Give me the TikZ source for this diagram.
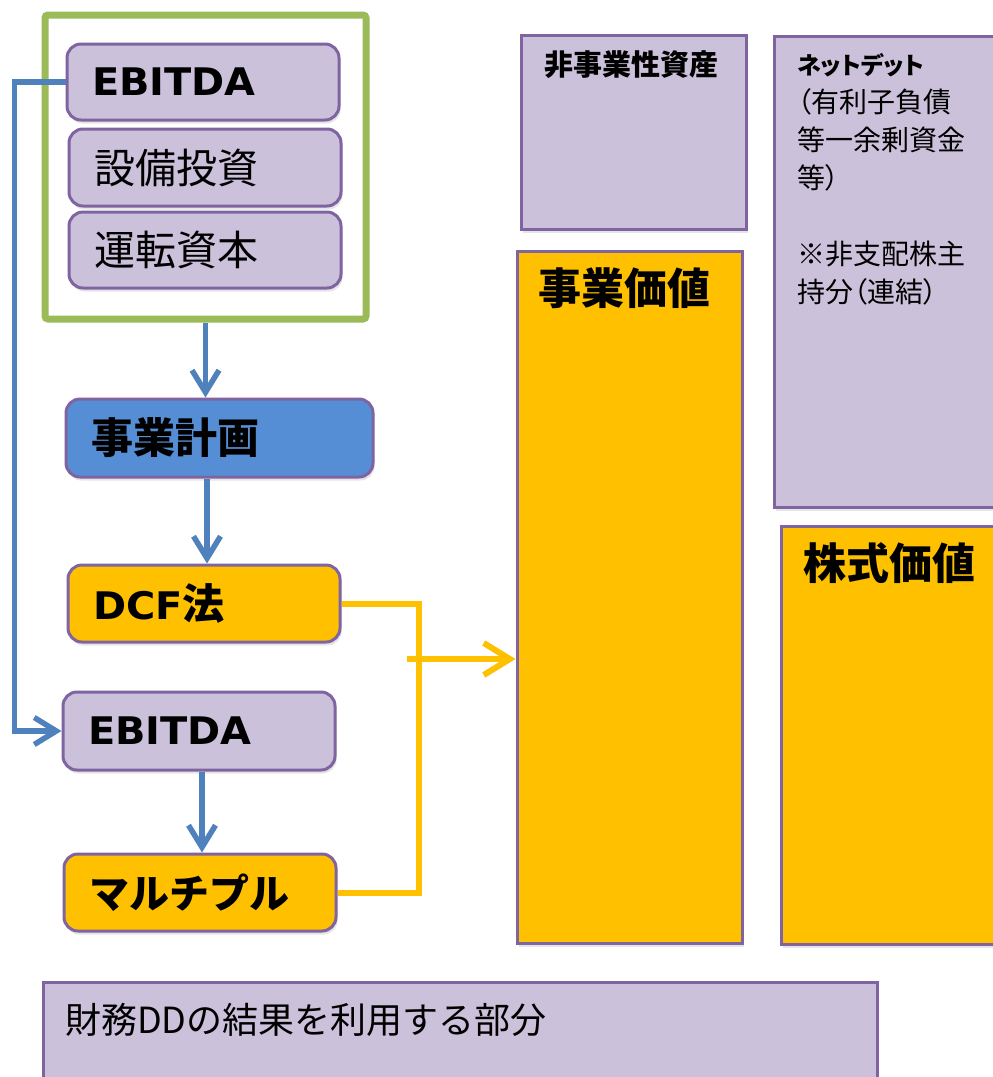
\documentclass[tikz,border=0pt]{standalone}
\usepackage{fontspec}
\setmainfont{Noto Sans CJK JP}
\newfontfamily\jpp{Noto Sans CJK JP}[RawFeature=+palt]
\newfontfamily\latwide{DejaVu Sans Bold}[FakeStretch=1.05]
\usetikzlibrary{arrows.meta,shadows}
\definecolor{lilac}{HTML}{CCC1DA}
\definecolor{pborder}{HTML}{8064A2}
\definecolor{bplan}{HTML}{558ED5}
\definecolor{barrow}{HTML}{4F81BD}
\definecolor{gold}{HTML}{FFC000}
\definecolor{gframe}{HTML}{9BBB59}
\newcommand\myfs[1]{\fontsize{#1}{#1}\selectfont}
\newcommand\myfsb[2]{\fontsize{#1}{#2}\selectfont}
\begin{document}
\begin{tikzpicture}[x=1pt,y=-1pt,
  shad/.style={drop shadow={shadow xshift=1.5pt,shadow yshift=-3.5pt,opacity=0.2}},
  rbox/.style={draw=pborder, line width=3pt, rounded corners=14pt, fill=lilac,
    inner xsep=25pt, inner ysep=0pt, align=left, shad},
  sbox/.style={draw=pborder, line width=3pt, fill=lilac, inner sep=0pt, shad},
  lbl/.style={inner sep=0pt, text=black},
  barr/.style={draw=barrow, line width=5.5pt, -{Straight Barb[length=22pt,width=27pt]}},
  yline/.style={draw=gold, line width=6pt},
  yarr/.style={draw=gold, line width=6pt, -{Straight Barb[length=26pt,width=32pt]}}]
\useasboundingbox (0,0) rectangle (993,1077);
\clip (0,0) rectangle (993,1077);
\fill[white] (0,0) rectangle (993,1077);

% green frame
\node[draw=gframe, line width=7pt, rounded corners=3pt, minimum width=321pt,
  minimum height=304pt, inner sep=0pt] (frame) at (205.5,167) {};

% left column boxes
\node[rbox, text width=222pt, minimum height=76pt] (e1) at (203,82)
  {\latwide\myfs{38}EBITDA};
\node[rbox, text width=222pt, minimum height=77pt] (capex) at (205,167.5)
  {\myfs{41}設備投資};
\node[rbox, text width=222pt, minimum height=76pt] (wc) at (205,250)
  {\myfs{41}運転資本};
\node[rbox, fill=bplan, text width=257pt, minimum height=78pt] (plan) at (219.5,438)
  {\bfseries\myfs{42}事業計画};
\node[rbox, fill=gold, text width=222pt, minimum height=77pt] (dcf) at (204,603.5)
  {{\latwide\myfs{38}DCF}\bfseries\myfs{42}法};
\node[rbox, text width=222pt, minimum height=78pt] (e2) at (199,731)
  {\latwide\myfs{38}EBITDA};
\node[rbox, fill=gold, text width=222pt, minimum height=77pt] (mult) at (200,892.5)
  {\bfseries\myfs{40}マルチプル};

% right column boxes
\node[sbox, minimum width=225pt, minimum height=194pt] (nonop) at (633.5,132) {};
\node[lbl, font=\bfseries\myfs{29}] (nonoplbl) at (631,65) {非事業性資産};

\node[sbox, fill=gold, minimum width=225pt, minimum height=692pt] (jigyo) at (629.5,597) {};
\node[lbl, anchor=west, font=\bfseries\myfs{43}] (jigyolbl) at (538,288) {事業価値};

\node[sbox, minimum width=236pt, minimum height=471pt] (net) at (892,271.5) {};
\node[lbl, anchor=north west, align=left, font=\jpp\myfsb{28}{38}] (netlbl) at (797,53)
  {{\bfseries\myfs{24}ネットデット}\\（有利子負債\\等一余剰資金\\等）\\[38pt]※非支配株主\\持分（連結）};

\node[sbox, fill=gold, minimum width=229pt, minimum height=418pt] (kabu) at (895.5,735) {};
\node[lbl, anchor=west, font=\bfseries\myfs{43}] (kabulbl) at (803,563) {株式価値};

\node[sbox, minimum width=834pt, minimum height=140pt] (dd) at (460,1052) {};
\node[lbl, anchor=west, font=\myfs{36}] (ddlbl) at (65,1020) {財務DDの結果を利用する部分};

% connectors
\draw[barr] (frame.south) -- (frame.south |- plan.north);
\draw[barr] ([xshift=3pt]dcf.north |- plan.south) -- ([xshift=3pt]dcf.north);
\draw[barr] ([xshift=3pt]e2.south) -- ([xshift=3pt]e2.south |- mult.north);
\draw[barr] (e1.west) -- ++(-51,0) |- (e2.west);
\draw[yline] (dcf.east) -- ++(77,0) |- (mult.east);
\coordinate (ystart) at (407,659);
\draw[yarr] (ystart) -- (ystart -| jigyo.west);
\end{tikzpicture}
\end{document}
